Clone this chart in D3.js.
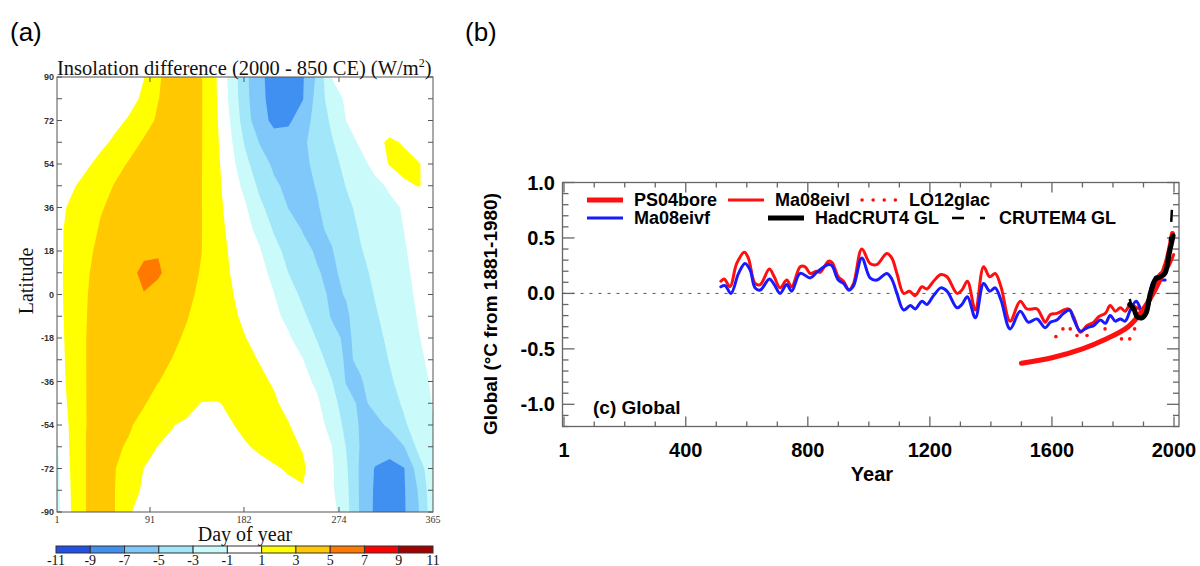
<!DOCTYPE html>
<html><head><meta charset="utf-8">
<script src="https://cdn.jsdelivr.net/npm/d3@7"></script>
<style>body{margin:0;background:#fff}svg{display:block}</style>
</head><body>
<svg id="c" width="1200" height="566"></svg>
<script>
// ---------- Panel (a) data ----------
const days = [1,15,29,43,57,71,85,99,113,127,141,155,169,183,197,211,225,239,253,267,281,295,309,323,337,351,365];
const lats = [90,81,72,63,54,45,36,27,18,9,0,-9,-18,-27,-36,-45,-54,-63,-72,-81,-90];
const insolation = [
[0,0.05,0.1,0.14,0.19,0.53,0.96,2.83,3.62,3.72,3.08,1.09,-1.62,-4.43,-6.69,-7.55,-7.81,-7.17,-4.61,-0.94,-0.3,-0.25,-0.2,-0.15,-0.1,-0.05,0],
[0,0.07,0.14,0.21,0.28,0.6,1.22,2.96,3.63,3.72,3.08,1.18,-1.47,-4.29,-6.66,-7.46,-7.61,-7.08,-4.19,-1.93,-0.7,-0.37,-0.3,-0.22,-0.15,-0.07,0],
[0,0.07,0.14,0.28,0.66,1.14,2.34,3.25,3.8,3.64,3.07,1.31,-1.11,-4.0,-6.32,-7.4,-7.35,-5.96,-4.19,-2.68,-0.98,-0.62,-0.2,0.0,-0.1,-0.11,0],
[0.05,0.17,0.29,0.68,1.23,2.35,3.18,3.61,3.97,3.51,3.06,1.38,-0.68,-3.22,-5.07,-6.3,-6.1,-5.27,-4.34,-3.17,-1.91,-0.66,0.49,1.3,0.83,0.38,0.1],
[0.2,0.4,0.77,1.37,2.42,3.17,3.55,3.94,3.87,3.46,3.05,1.48,-0.25,-2.43,-4.17,-5.31,-6.0,-5.38,-4.58,-3.54,-2.56,-1.65,-0.33,1.15,1.5,1.06,0.6],
[0.5,0.82,1.4,2.33,3.1,3.47,3.84,4.01,3.69,3.36,3.04,1.54,0.06,-1.5,-3.4,-4.69,-5.42,-5.45,-4.9,-3.9,-2.94,-2.24,-1.55,-0.72,0.75,1.05,0.7],
[0.6,1.22,2.06,2.89,3.32,3.7,4.07,4.0,3.68,3.36,3.04,1.62,0.34,-0.75,-2.55,-3.88,-5.05,-5.47,-5.12,-4.3,-3.32,-2.61,-2.03,-1.45,-0.82,0.0,0.4],
[0.6,1.49,2.39,3.13,3.52,3.91,4.3,3.99,3.67,3.36,3.04,1.74,0.55,-0.37,-1.56,-3.2,-4.23,-5.1,-5.28,-4.69,-3.7,-2.83,-2.22,-1.61,-0.98,-0.35,0.3],
[0.5,1.64,2.65,3.35,3.89,4.22,4.5,4.9,4.3,3.66,3.02,1.87,0.79,-0.02,-0.82,-2.35,-3.59,-4.54,-5.21,-5.1,-4.07,-3.1,-2.42,-1.78,-1.14,-0.47,0.2],
[0.5,1.72,2.82,3.5,3.97,4.3,5.6,5.2,4.4,3.64,2.86,1.91,0.97,0.25,-0.47,-1.43,-3.01,-3.94,-4.88,-5.4,-4.42,-3.46,-2.64,-1.97,-1.29,-0.6,0.1],
[0.5,1.72,2.91,3.59,4.07,4.4,4.9,4.5,4.0,3.35,2.66,1.9,1.15,0.44,-0.26,-0.95,-2.2,-3.38,-4.37,-5.35,-4.9,-3.81,-2.9,-2.18,-1.46,-0.74,0.0],
[0.4,1.71,2.96,3.48,3.92,4.09,4.12,3.92,3.5,3.06,2.49,1.91,1.32,0.71,0.06,-0.59,-1.44,-2.68,-3.83,-5.15,-5.25,-4.1,-3.19,-2.4,-1.65,-0.9,-0.2],
[0.3,1.7,2.99,3.53,3.88,4.05,3.95,3.68,3.24,2.81,2.37,1.93,1.49,1.05,0.45,-0.16,-0.78,-1.83,-3.13,-4.43,-5.35,-4.38,-3.49,-2.65,-1.87,-1.08,-0.4],
[0.2,1.66,2.99,3.47,3.77,3.89,3.68,3.35,2.96,2.63,2.3,1.97,1.64,1.3,0.95,0.32,-0.32,-0.95,-2.28,-3.76,-5.3,-4.65,-3.78,-2.92,-2.1,-1.29,-0.6],
[0.1,1.62,2.99,3.4,3.64,3.65,3.4,3.02,2.76,2.5,2.25,1.99,1.73,1.47,1.22,0.89,0.21,-0.47,-1.34,-2.92,-5.15,-5.15,-4.1,-3.24,-2.38,-1.52,-0.8],
[-0.2,1.55,2.99,3.33,3.47,3.38,3.08,2.6,2.07,1.53,0.92,0.9,1.19,1.46,1.45,1.16,0.67,-0.04,-0.74,-2.18,-4.16,-5.4,-4.57,-3.67,-2.76,-1.79,-0.9],
[-0.9,1.47,2.99,3.27,3.3,3.11,2.66,1.86,1.05,0.75,0.51,0.72,0.93,1.22,1.53,1.37,1.07,0.38,-0.42,-1.54,-3.59,-5.25,-5.51,-4.68,-3.24,-2.14,-1.1],
[-1.2,1.4,3.01,3.22,3.17,2.87,1.8,0.95,0.73,0.51,0.31,0.51,0.71,0.91,1.15,1.42,1.28,0.92,-0.03,-0.97,-3.07,-5.18,-5.92,-6.25,-5.06,-2.44,-1.3],
[-1.4,1.27,3.01,3.26,3.08,1.91,0.98,0.81,0.64,0.48,0.31,0.26,0.41,0.57,0.72,0.88,1.12,1.19,0.33,-0.73,-2.73,-5.39,-7.13,-7.57,-7.08,-4.0,-1.5],
[-1.5,1.15,3.01,3.2,3.01,1.5,0.82,0.53,0.24,0.1,0.1,0.1,0.1,0.1,0.1,0.17,0.7,0.92,0.3,-0.7,-2.53,-5.36,-7.28,-7.85,-7.17,-4.85,-1.6],
[-1.6,1.07,3.01,3.2,3.01,1.16,0.29,0,0,0,0,0,0,0,0,0,0,0,0,-0.2,-2.36,-5.34,-7.34,-7.95,-7.21,-5.1,-1.8]
];
const levels = [-11,-9,-7,-5,-3,-1,1,3,5,7,9,11];
const levelColors = ["#2050e8","#4090f2","#80c8fa","#a2e6fa","#cafafa","#ffffff","#ffff00","#ffc800","#ff7800","#ff0000","#a00000"];
const dayTicks = [1,91,182,274,365];
const latTicks = [90,72,54,36,18,0,-18,-36,-54,-72,-90];

// ---------- Panel (b) data ----------
const eivlYears = [515,526,545,567,592,605,627,644,674,690,709,731,747,775,791,808,829,840,868,879,900,917,935,950,977,1004,1026,1059,1075,1092,1114,1133,1152,1174,1190,1212,1236,1256,1289,1305,1323,1349,1376,1396,1414,1433,1463,1496,1518,1551,1565,1578,1595,1616,1654,1671,1693,1715,1737,1753,1775,1791,1808,1824,1840,1857,1879,1895,1911,1930,1955,1977,1999];
const eivlVals = [0.11,0.13,0.06,0.27,0.37,0.32,0.09,0.08,0.22,0.15,0.05,0.12,0.06,0.24,0.24,0.18,0.20,0.19,0.29,0.28,0.15,0.11,0.03,0.09,0.40,0.27,0.26,0.36,0.32,0.18,0.00,0.02,-0.02,0.06,0.04,0.11,0.17,0.15,0.00,0.03,0.11,-0.15,0.24,0.15,0.18,0.06,-0.25,-0.07,-0.14,-0.14,-0.20,-0.26,-0.19,-0.18,-0.14,-0.21,-0.35,-0.29,-0.26,-0.21,-0.18,-0.11,-0.16,-0.13,-0.16,-0.10,-0.13,-0.15,-0.08,0.08,0.18,0.22,0.35];
const eivfYears = [515,529,548,573,594,611,627,644,674,690,709,731,747,775,808,829,868,879,900,917,935,950,977,1004,1026,1059,1075,1092,1114,1136,1152,1174,1190,1212,1236,1256,1289,1305,1323,1349,1376,1396,1414,1433,1463,1496,1523,1551,1578,1595,1616,1638,1658,1671,1693,1715,1737,1759,1775,1791,1808,1824,1840,1857,1876,1895,1911,1933,1955,1971];
const eivfVals = [0.06,0.07,0.00,0.18,0.27,0.21,0.05,0.03,0.13,0.08,0.00,0.08,0.02,0.18,0.14,0.19,0.26,0.25,0.12,0.09,0.03,0.07,0.32,0.14,0.12,0.18,0.13,0.00,-0.15,-0.11,-0.14,-0.07,-0.10,-0.02,0.05,0.02,-0.13,-0.10,-0.03,-0.22,0.09,0.02,0.05,-0.06,-0.32,-0.16,-0.26,-0.23,-0.31,-0.26,-0.24,-0.18,-0.15,-0.23,-0.34,-0.31,-0.29,-0.24,-0.27,-0.20,-0.25,-0.23,-0.25,-0.15,-0.07,-0.15,-0.10,0.11,0.12,0.12];
const boreYears = [1500,1600,1700,1770,1850,1900,1950,1975,1995];
const boreVals = [-0.63,-0.58,-0.50,-0.42,-0.30,-0.14,0.10,0.28,0.54];
const glacYears = [1613,1636,1660,1682,1715,1774,1828,1855,1871];
const glacVals = [-0.39,-0.32,-0.32,-0.38,-0.38,-0.32,-0.41,-0.41,-0.32];
const hadYears = [1855,1862,1870,1879,1895,1908,1922,1940,1955,1970,1985,1997];
const hadVals = [-0.10,-0.12,-0.15,-0.21,-0.22,-0.18,-0.01,0.13,0.15,0.18,0.37,0.52];
const cruYears = [1855,1865,1880,1895,1910,1925,1940,1955,1970,1980,1988,1994];
const cruVals = [-0.05,-0.15,-0.25,-0.22,-0.20,0.00,0.15,0.14,0.18,0.30,0.52,0.80];
const yearTicks = [1,400,800,1200,1600,2000];
const tempTicks = [1.0,0.5,0.0,-0.5,-1.0];

const svg = d3.select("#c");
const SERIF = "'Liberation Serif','Times New Roman',serif";
const SANS = "'Liberation Sans',Arial,sans-serif";

// ===== Panel (a) =====
const xA = d3.scaleLinear().domain([1,365]).range([57,433]);
const yA = d3.scaleLinear().domain([-90,90]).range([512,77]);
svg.append("text").attr("x",10).attr("y",41).attr("font-family",SANS).attr("font-size",26).text("(a)");
svg.append("defs").append("clipPath").attr("id","clipA").append("rect")
  .attr("x",xA(1)).attr("y",yA(90)).attr("width",xA(365)-xA(1)).attr("height",yA(-90)-yA(90));
const flat = insolation.flat();
const dStep = days[1]-days[0], lStep = lats[1]-lats[0];
const proj = d3.geoTransform({point:function(cx,cy){
  this.stream.point(xA(days[0]+(cx-0.5)*dStep), yA(lats[0]+(cy-0.5)*lStep));
}});
const path = d3.geoPath(proj);
const contours = d3.contours().size([days.length, lats.length]).thresholds(levels.slice(0,-1))(flat);
svg.append("g").attr("clip-path","url(#clipA)").selectAll("path").data(contours).join("path")
  .attr("d",path).attr("fill",(d,i)=>levelColors[i]).attr("stroke","none");
// frame
svg.append("rect").attr("x",xA(1)).attr("y",yA(90)).attr("width",xA(365)-xA(1)).attr("height",yA(-90)-yA(90))
  .attr("fill","none").attr("stroke","#555").attr("stroke-width",1);
const gA = svg.append("g").attr("stroke","#555").attr("stroke-width",1);
d3.range(-90,91,9).forEach(l=>{
  gA.append("line").attr("x1",xA(1)).attr("x2",xA(1)+5).attr("y1",yA(l)).attr("y2",yA(l));
  gA.append("line").attr("x1",xA(365)).attr("x2",xA(365)-5).attr("y1",yA(l)).attr("y2",yA(l));
});
dayTicks.slice(1,-1).forEach(d=>{
  gA.append("line").attr("x1",xA(d)).attr("x2",xA(d)).attr("y1",yA(-90)).attr("y2",yA(-90)-5);
  gA.append("line").attr("x1",xA(d)).attr("x2",xA(d)).attr("y1",yA(90)).attr("y2",yA(90)+5);
});
svg.append("g").selectAll("text").data(latTicks).join("text")
  .attr("x",xA(1)-3).attr("y",d=>yA(d)+3).attr("text-anchor","end")
  .attr("font-family",SANS).attr("font-size",9).attr("font-weight","bold").attr("fill","#333").text(d=>d);
svg.append("g").selectAll("text").data(dayTicks).join("text")
  .attr("x",d=>xA(d)).attr("y",523).attr("text-anchor","middle")
  .attr("font-family",SERIF).attr("font-size",10).attr("fill","#333").text(d=>d);
const tA = svg.append("text").attr("x",57).attr("y",75).attr("font-family",SERIF).attr("font-size",20.5).attr("fill","#111");
tA.append("tspan").text("Insolation difference (2000 - 850 CE) (W/m");
tA.append("tspan").attr("dy",-8).attr("font-size",12).text("2");
tA.append("tspan").attr("dy",8).text(")");
svg.append("text").attr("x",245).attr("y",541).attr("text-anchor","middle")
  .attr("font-family",SERIF).attr("font-size",20).attr("fill","#111").text("Day of year");
svg.append("text").attr("transform","translate(33,281) rotate(-90)").attr("text-anchor","middle")
  .attr("font-family",SERIF).attr("font-size",20).attr("fill","#111").text("Latitude");
// colorbar
const cb = d3.scaleLinear().domain([-11,11]).range([56,433]);
svg.append("g").selectAll("rect").data(levelColors).join("rect")
  .attr("x",(d,i)=>cb(levels[i])).attr("y",546).attr("width",(d,i)=>cb(levels[i+1])-cb(levels[i])).attr("height",7)
  .attr("fill",d=>d).attr("stroke","#333").attr("stroke-width",1);
svg.append("g").selectAll("text").data(levels).join("text")
  .attr("x",d=>cb(d)).attr("y",564.5).attr("text-anchor","middle")
  .attr("font-family",SERIF).attr("font-size",14).attr("fill","#111").text(d=>d);

// ===== Panel (b) =====
svg.append("text").attr("x",465).attr("y",41).attr("font-family",SANS).attr("font-size",26).text("(b)");
const x = d3.scaleLinear().domain([1,2000]).range([564,1174]);
const y = d3.scaleLinear().domain([-1.2,1.0]).range([426.5,182.5]);
const L = 562.5, R = 1179, T = y(1.0), B = y(-1.2);
const gB = svg.append("g").attr("stroke","#666").attr("stroke-width",1.3);
gB.append("rect").attr("x",L).attr("y",T).attr("width",R-L).attr("height",B-T).attr("fill","none");
d3.range(-12,11).forEach(k=>{
  const v=k/10, major = (k%5===0);
  const len = major?12:6;
  gB.append("line").attr("x1",L).attr("x2",L+len).attr("y1",y(v)).attr("y2",y(v));
  gB.append("line").attr("x1",R).attr("x2",R-len).attr("y1",y(v)).attr("y2",y(v));
});
d3.range(100,2000,100).concat([1,2000]).forEach(yr=>{
  const major = yearTicks.includes(yr);
  const len = major?10:5;
  gB.append("line").attr("x1",x(yr)).attr("x2",x(yr)).attr("y1",B).attr("y2",B-len);
  gB.append("line").attr("x1",x(yr)).attr("x2",x(yr)).attr("y1",T).attr("y2",T+len);
});
svg.append("line").attr("x1",L).attr("x2",R).attr("y1",y(0)).attr("y2",y(0))
  .attr("stroke","#555").attr("stroke-width",1).attr("stroke-dasharray","3,6");
svg.append("g").selectAll("text").data(tempTicks).join("text")
  .attr("x",555).attr("y",d=>y(d)+7).attr("text-anchor","end")
  .attr("font-family",SANS).attr("font-weight","bold").attr("font-size",20).text(d=>d.toFixed(1));
svg.append("g").selectAll("text").data(yearTicks).join("text")
  .attr("x",d=>x(d)).attr("y",457).attr("text-anchor","middle")
  .attr("font-family",SANS).attr("font-weight","bold").attr("font-size",20).text(d=>d);
svg.append("text").attr("x",872).attr("y",481).attr("text-anchor","middle")
  .attr("font-family",SANS).attr("font-weight","bold").attr("font-size",20).text("Year");
svg.append("text").attr("transform","translate(497,314) rotate(-90)").attr("text-anchor","middle")
  .attr("font-family",SANS).attr("font-weight","bold").attr("font-size",19).text("Global (\u00B0C from 1881-1980)");
svg.append("text").attr("x",593).attr("y",414)
  .attr("font-family",SANS).attr("font-weight","bold").attr("font-size",19).text("(c) Global");

const line = d3.line().x(d=>x(d[0])).y(d=>y(d[1])).curve(d3.curveCatmullRom.alpha(0.5));
const zip = (a,b)=>a.map((v,i)=>[v,b[i]]);
const gL = svg.append("g").attr("fill","none").attr("stroke-linejoin","round").attr("stroke-linecap","round");
gL.append("path").attr("d",line(zip(eivlYears,eivlVals))).attr("stroke","#ff1010").attr("stroke-width",3);
gL.append("path").attr("d",line(zip(eivfYears,eivfVals))).attr("stroke","#1a1aff").attr("stroke-width",3);
gL.append("path").attr("d",line(zip(boreYears,boreVals))).attr("stroke","#ff1010").attr("stroke-width",5);
svg.append("g").selectAll("circle").data(zip(glacYears,glacVals)).join("circle")
  .attr("cx",d=>x(d[0])).attr("cy",d=>y(d[1])).attr("r",1.8).attr("fill","#ff1010");
gL.append("path").attr("d",line(zip(cruYears,cruVals))).attr("stroke","#000").attr("stroke-width",2.5)
  .attr("stroke-dasharray","12,15,4,15").attr("stroke-linecap","butt");
gL.append("path").attr("d",line(zip(hadYears,hadVals))).attr("stroke","#000").attr("stroke-width",5);

// legend
const lg = svg.append("g").attr("font-family",SANS).attr("font-weight","bold").attr("font-size",18);
const legendItems = [
  {x:587,y:200,label:"PS04bore",color:"#ff1010",w:5,dash:null},
  {x:728,y:200,label:"Ma08eivl",color:"#ff1010",w:3,dash:null},
  {x:862,y:200,label:"LO12glac",color:"#ff1010",w:3.5,dash:"0.1,11"},
  {x:587,y:218,label:"Ma08eivf",color:"#1a1aff",w:3,dash:null},
  {x:768,y:218,label:"HadCRUT4 GL",color:"#000",w:5,dash:null},
  {x:952,y:218,label:"CRUTEM4 GL",color:"#000",w:2.5,dash:"12,16,5,50"}
];
legendItems.forEach(it=>{
  lg.append("line").attr("x1",it.x).attr("x2",it.x+36).attr("y1",it.y).attr("y2",it.y)
    .attr("stroke",it.color).attr("stroke-width",it.w)
    .attr("stroke-dasharray",it.dash).attr("stroke-linecap",it.dash==="0.1,11"?"round":"butt");
  lg.append("text").attr("x",it.x+47).attr("y",it.y+6).text(it.label);
});
</script>
</body></html>
